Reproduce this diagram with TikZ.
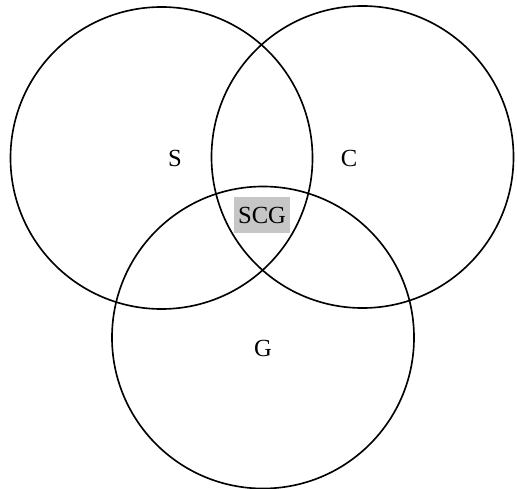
\documentclass[tikz,border=0pt]{standalone}
\usepackage{fontspec}
\setmainfont{Liberation Serif}
\usetikzlibrary{positioning, patterns}

\begin{document}
\begin{tikzpicture}[
	x=0.03cm, y=-0.03cm, % one unit per pixel of the original
	% Style for the three sets
	setcircle/.style={
		circle,
		draw=black,
		line width=1.4pt,
		inner sep=0pt,
		minimum size=9.06cm
	},
	% Style for the labels
	setlabel/.style={font=\fontsize{21}{24}\selectfont, inner sep=1pt},
	common/.style={setlabel, fill=gray!45, minimum width=1.68cm, minimum height=1.08cm}
	]
	
	\useasboundingbox (0,0) rectangle (517,488);
	
	% --- SETS ---
	\node[setcircle] (setS) at (161.5,158) {};
	\node[setcircle] (setC) at (362.5,157) {};
	\node[setcircle] (setG) at (263,337.5) {};
	
	% --- LABELS ---
	\node[setlabel] (labS) at (175,158) {S};
	\node[setlabel] (labC) at (349,158) {C};
	\node[setlabel] (labG) at (263,348) {G};
	
	% Common part of all three sets
	\node[common] (labSCG) at (262,215) {SCG};
	
\end{tikzpicture}
\end{document}
